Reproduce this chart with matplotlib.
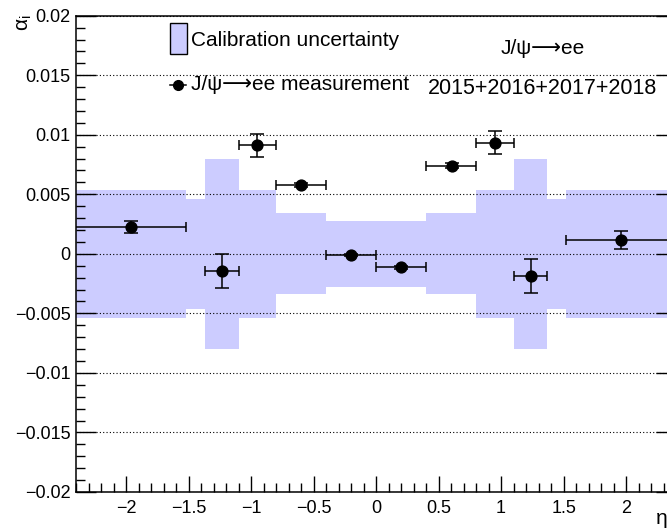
import matplotlib
matplotlib.use("Agg")
import matplotlib.pyplot as plt
from matplotlib.patches import Rectangle
from matplotlib.lines import Line2D
import numpy as np

plt.rcParams['font.family'] = ['Liberation Sans', 'DejaVu Sans']
plt.rcParams['mathtext.fontset'] = 'custom'
plt.rcParams['mathtext.rm'] = 'Liberation Sans'
plt.rcParams['mathtext.it'] = 'Liberation Sans'

# ---- data ----
band_edges = [-2.47, -1.52, -1.37, -1.1, -0.8, -0.4, 0.0, 0.4, 0.8, 1.1, 1.37, 1.52, 2.47]
band_halfwidth = [0.0054, 0.0046, 0.0080, 0.0054, 0.0034, 0.00275,
                  0.00275, 0.0034, 0.0054, 0.0080, 0.0046, 0.0054]

eta_center = [-1.96, -1.237, -0.952, -0.6, -0.2, 0.2, 0.604, 0.951, 1.239, 1.96]
eta_low = [-2.47, -1.37, -1.1, -0.8, -0.4, 0.0, 0.4, 0.8, 1.1, 1.52]
eta_high = [-1.52, -1.1, -0.8, -0.4, 0.0, 0.4, 0.8, 1.1, 1.37, 2.47]
alpha_val = [0.00227, -0.00143, 0.00912, 0.00579, -0.0001, -0.00113, 0.00741, 0.00934, -0.00185, 0.00117]
alpha_err = [0.0005, 0.00140, 0.00097, 0.0002, 0.0001, 0.00015, 0.0002, 0.00098, 0.00140, 0.00075]

x_ticks = [-2, -1.5, -1, -0.5, 0, 0.5, 1, 1.5, 2]
x_tick_labels = ['\u22122', '\u22121.5', '\u22121', '\u22120.5', '0', '0.5', '1', '1.5', '2']
y_ticks = [-0.02, -0.015, -0.01, -0.005, 0, 0.005, 0.01, 0.015, 0.02]
y_tick_labels = ['\u22120.02', '\u22120.015', '\u22120.01', '\u22120.005', '0',
                 '0.005', '0.01', '0.015', '0.02']

legend_labels = ['Calibration uncertainty', 'J/\u03c8\u27f6ee measurement']
channel_label = 'J/\u03c8\u27f6ee'
years_label = '2015+2016+2017+2018'

band_color = '#ccccff'

# ---- figure ----
W, H = 667, 531
fig = plt.figure(figsize=(W / 100, H / 100), dpi=100)
ax = fig.add_axes([76.4 / W, (H - 492) / H, 599.6 / W, 476.3 / H])


def fx(px):
    return px / W


def fy(py):
    return 1 - py / H


hw = np.array(band_halfwidth)
ax.stairs(hw, band_edges, baseline=-hw, fill=True, color=band_color, lw=0, zorder=1)

xc = np.array(eta_center)
xerr = [xc - np.array(eta_low), np.array(eta_high) - xc]
ax.errorbar(xc, alpha_val, xerr=xerr, fmt='none', ecolor='black', elinewidth=1.1,
            capsize=3.5, capthick=1.1, zorder=4)
ax.errorbar(xc, alpha_val, yerr=alpha_err, fmt='o', color='black', ms=7.8,
            ecolor='black', elinewidth=1.1, capsize=5.0, capthick=1.1, zorder=5)

ax.set_xlim(-2.4, 2.4)
ax.set_ylim(-0.02, 0.02)
ax.set_xticks(x_ticks, x_tick_labels)
ax.set_yticks(y_ticks, y_tick_labels)
ax.set_xticks(np.arange(-2.4, 2.41, 0.1), minor=True)
ax.set_yticks(np.arange(-0.02, 0.0201, 0.001), minor=True)

ax.yaxis.grid(True, which='major', linestyle=(0, (1, 2)), color='black', linewidth=0.8)
ax.set_axisbelow(False)

ax.tick_params(which='both', direction='in', top=False, right=True, labelsize=13,
               width=1.0, colors='black')
ax.xaxis.set_tick_params(which='major', length=11.5, pad=6)
ax.xaxis.set_tick_params(which='minor', length=6.2)
ax.yaxis.set_tick_params(which='major', length=14.4, pad=4)
ax.yaxis.set_tick_params(which='minor', length=6.5)
for s in ax.spines.values():
    s.set_linewidth(1.1)

# axis titles
fig.text(fx(24), fy(14), r'$\mathregular{\alpha_{i}}$', rotation=90, ha='center', va='top',
         fontsize=15)
fig.text(fx(662), fy(518), '\u03b7', ha='center', va='center', fontsize=15)

# legend (drawn by hand, ROOT style)
fig.patches.append(Rectangle((fx(170), fy(54)), 17 / W, 31 / H, transform=fig.transFigure,
                             facecolor=band_color, edgecolor='black', linewidth=1.0))
fig.text(fx(191), fy(41), legend_labels[0], ha='left', va='center', fontsize=15)
fig.lines.append(Line2D([fx(170), fx(186)], [fy(85), fy(85)], transform=fig.transFigure,
                        color='black', lw=1.1, marker=None))
fig.lines.append(Line2D([fx(178)], [fy(85)], transform=fig.transFigure,
                        color='black', marker='o', ms=7, lw=0))
fig.text(fx(191), fy(85), legend_labels[1], ha='left', va='center', fontsize=15)

fig.text(fx(543), fy(48), channel_label, ha='center', va='center', fontsize=15)
fig.text(fx(428), fy(88), years_label, ha='left', va='center', fontsize=15.5)

fig.savefig('out.png', dpi=100)
